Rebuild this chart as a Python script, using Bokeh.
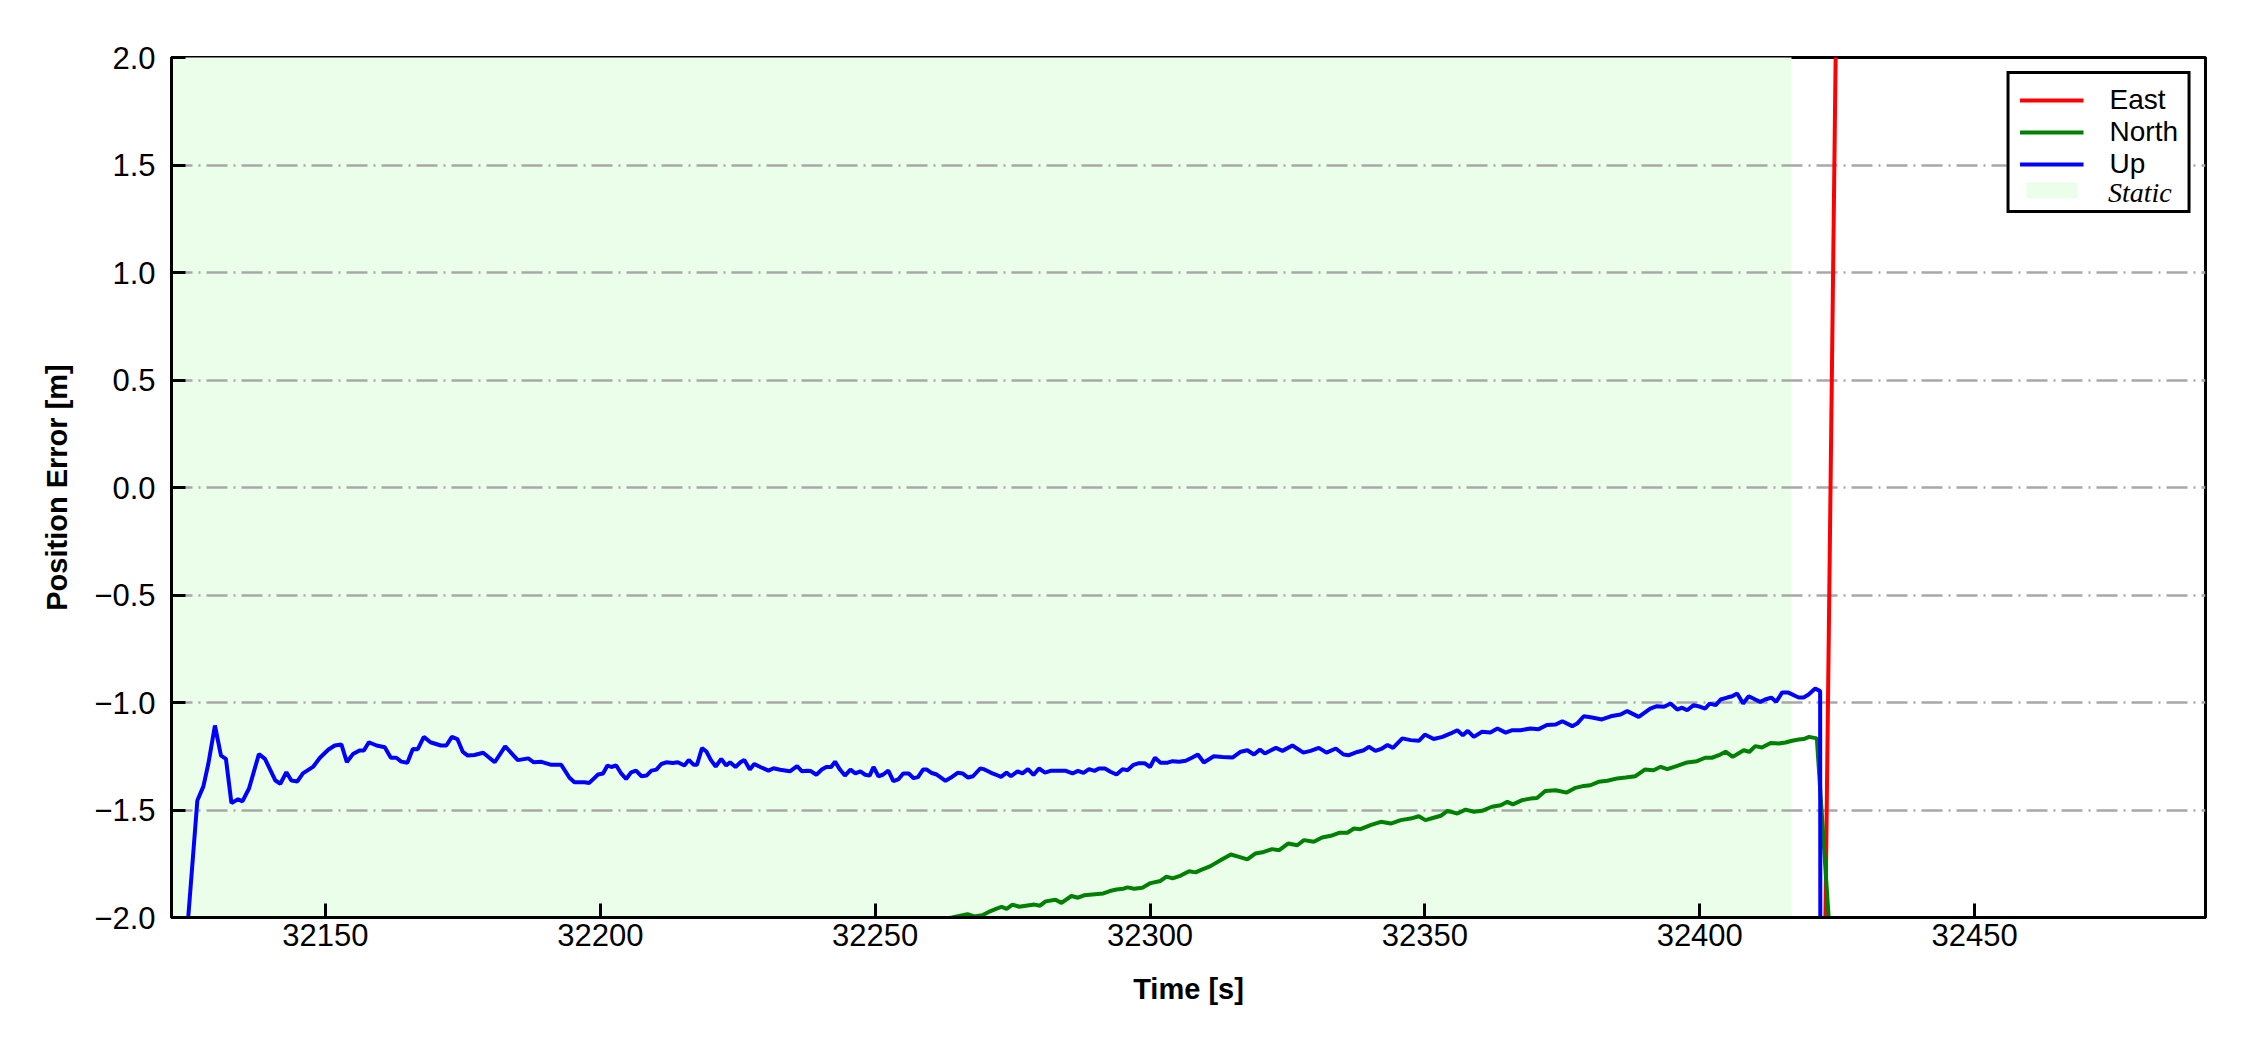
from bokeh.plotting import figure
from bokeh.models import (Range1d, FixedTicker, Legend, LegendItem)
from bokeh.embed import file_html
from bokeh.resources import INLINE

# ---------------- data ----------------
up_t = [32122.0, 32126.7, 32127.8, 32128.7, 32129.9, 32131.0, 32131.9, 32132.9, 32134.1, 32134.9,
        32136.1, 32137.9, 32139.0, 32140.9, 32141.8, 32142.9, 32143.8, 32144.9, 32145.9, 32147.8,
        32149.0, 32150.5, 32151.7, 32152.9, 32153.9, 32155.0, 32156.2, 32157.0, 32157.9, 32159.3,
        32160.8, 32161.9, 32162.9, 32163.8, 32164.9, 32165.9, 32166.8, 32167.9, 32169.1, 32171.0,
        32172.0, 32173.0, 32174.0, 32175.0, 32175.9, 32177.1, 32178.7, 32180.8, 32182.7, 32185.0,
        32186.9, 32187.9, 32189.3, 32191.1, 32192.9, 32194.4, 32195.3, 32197.1, 32198.0, 32199.6,
        32200.5, 32201.3, 32202.0, 32202.9, 32203.8, 32204.7, 32205.6, 32206.5, 32207.5, 32208.4,
        32209.3, 32210.2, 32211.1, 32212.0, 32213.2, 32214.1, 32215.3, 32216.1, 32217.0, 32217.6,
        32218.5, 32219.3, 32220.1, 32221.0, 32222.0, 32222.9, 32223.6, 32224.6, 32225.5, 32226.2,
        32227.2, 32228.0, 32229.1, 32230.6, 32231.5, 32232.7, 32234.5, 32235.8, 32236.7, 32237.6,
        32238.3, 32239.3, 32240.3, 32241.1, 32242.0, 32242.7, 32243.6, 32244.5, 32245.5, 32246.4,
        32247.3, 32248.2, 32249.0, 32249.7, 32250.6, 32251.4, 32252.4, 32253.3, 32254.2, 32255.1,
        32256.1, 32257.0, 32257.8, 32258.7, 32259.4, 32260.3, 32261.2, 32262.8, 32263.8, 32265.0,
        32265.9, 32266.9, 32267.8, 32269.1, 32269.8, 32271.0, 32271.9, 32272.9, 32273.9, 32274.7,
        32275.9, 32276.8, 32277.8, 32278.8, 32279.8, 32280.9, 32281.9, 32283.2, 32284.7, 32285.9,
        32286.9, 32287.9, 32288.9, 32289.9, 32290.7, 32291.8, 32292.8, 32293.9, 32295.0, 32295.9,
        32297.0, 32298.0, 32299.0, 32300.0, 32300.9, 32301.9, 32303.2, 32304.1, 32305.3, 32306.5,
        32307.7, 32308.7, 32309.8, 32311.6, 32313.2, 32315.0, 32316.5, 32317.7, 32318.9, 32320.0,
        32320.9, 32322.9, 32324.1, 32325.9, 32327.9, 32329.2, 32330.7, 32332.1, 32333.8, 32335.2,
        32336.2, 32337.7, 32338.9, 32339.8, 32341.0, 32342.2, 32343.2, 32344.2, 32345.9, 32347.4,
        32348.9, 32350.0, 32351.6, 32353.2, 32354.7, 32355.9, 32356.9, 32357.8, 32358.9, 32360.4,
        32361.9, 32363.2, 32364.7, 32365.9, 32367.4, 32369.2, 32370.7, 32372.2, 32373.8, 32375.0,
        32376.8, 32377.7, 32378.9, 32380.4, 32382.2, 32383.8, 32385.6, 32386.8, 32388.9, 32391.0,
        32392.2, 32393.5, 32394.7, 32395.9, 32396.8, 32397.7, 32398.9, 32400.1, 32401.0, 32401.8,
        32402.9, 32403.8, 32405.0, 32405.9, 32406.8, 32407.9, 32408.9, 32410.1, 32411.0, 32411.9,
        32413.0, 32413.9, 32415.0, 32416.0, 32417.1, 32418.0, 32418.9, 32419.8, 32421.0, 32421.9,
        32422.1, 32492.0]
up_v = [-3.0, -1.456, -1.39, -1.285, -1.107, -1.247, -1.262, -1.468, -1.45, -1.46,
        -1.40, -1.24, -1.262, -1.363, -1.378, -1.324, -1.363, -1.367, -1.33, -1.298,
        -1.257, -1.22, -1.20, -1.195, -1.277, -1.24, -1.223, -1.223, -1.185, -1.20,
        -1.208, -1.257, -1.257, -1.275, -1.28, -1.216, -1.217, -1.16, -1.185, -1.20,
        -1.20, -1.16, -1.17, -1.23, -1.247, -1.244, -1.234, -1.278, -1.204, -1.268,
        -1.26, -1.278, -1.276, -1.29, -1.29, -1.35, -1.371, -1.371, -1.374, -1.335,
        -1.33, -1.293, -1.30, -1.293, -1.33, -1.356, -1.325, -1.317, -1.343, -1.34,
        -1.317, -1.312, -1.286, -1.278, -1.281, -1.278, -1.293, -1.267, -1.29, -1.289,
        -1.212, -1.228, -1.267, -1.298, -1.262, -1.293, -1.278, -1.30, -1.278, -1.267,
        -1.312, -1.286, -1.30, -1.317, -1.306, -1.313, -1.32, -1.296, -1.32, -1.317,
        -1.319, -1.336, -1.312, -1.30, -1.30, -1.275, -1.312, -1.34, -1.312, -1.33,
        -1.32, -1.336, -1.34, -1.30, -1.343, -1.336, -1.317, -1.366, -1.358, -1.33,
        -1.33, -1.352, -1.347, -1.312, -1.312, -1.328, -1.335, -1.364, -1.349, -1.327,
        -1.33, -1.349, -1.343, -1.307, -1.31, -1.326, -1.335, -1.346, -1.326, -1.343,
        -1.32, -1.33, -1.31, -1.337, -1.307, -1.326, -1.318, -1.318, -1.318, -1.33,
        -1.318, -1.327, -1.31, -1.318, -1.307, -1.307, -1.322, -1.335, -1.31, -1.315,
        -1.29, -1.282, -1.282, -1.30, -1.257, -1.28, -1.28, -1.273, -1.276, -1.271,
        -1.256, -1.242, -1.279, -1.25, -1.253, -1.256, -1.229, -1.222, -1.242, -1.219,
        -1.237, -1.211, -1.225, -1.20, -1.233, -1.225, -1.211, -1.233, -1.214, -1.242,
        -1.245, -1.23, -1.222, -1.206, -1.225, -1.214, -1.198, -1.211, -1.167, -1.175,
        -1.178, -1.149, -1.17, -1.16, -1.144, -1.129, -1.152, -1.132, -1.16, -1.136,
        -1.139, -1.121, -1.14, -1.129, -1.129, -1.121, -1.124, -1.105, -1.102, -1.087,
        -1.11, -1.098, -1.064, -1.07, -1.079, -1.064, -1.056, -1.04, -1.067, -1.028,
        -1.017, -1.02, -1.005, -1.033, -1.024, -1.036, -1.012, -1.02, -1.028, -1.005,
        -1.012, -0.986, -0.977, -0.971, -0.958, -1.005, -0.971, -0.986, -0.997, -0.986,
        -0.977, -0.997, -0.953, -0.953, -0.966, -0.977, -0.977, -0.963, -0.935, -0.947,
        -8.0, -8.0]

north_t = [32122.0, 32264.0, 32266.8, 32268.0, 32269.5, 32271.0, 32272.0, 32273.0, 32273.9, 32275.0,
           32276.2, 32277.7, 32279.0, 32280.0, 32281.0, 32282.8, 32283.9, 32285.7, 32286.9, 32288.0,
           32289.5, 32291.5, 32292.7, 32293.9, 32295.2, 32295.9, 32297.1, 32298.6, 32300.1, 32301.9,
           32303.0, 32304.1, 32305.6, 32307.1, 32308.3, 32309.2, 32311.0, 32312.9, 32314.7, 32316.2,
           32317.7, 32319.2, 32320.7, 32322.2, 32323.5, 32325.1, 32326.8, 32328.0, 32329.8, 32331.3,
           32332.9, 32334.4, 32335.9, 32337.1, 32338.3, 32340.1, 32342.0, 32343.8, 32345.6, 32347.4,
           32348.9, 32350.1, 32351.6, 32352.9, 32354.1, 32355.9, 32357.4, 32358.9, 32360.4, 32362.2,
           32363.8, 32365.0, 32366.0, 32367.7, 32369.2, 32370.4, 32371.9, 32373.8, 32375.8, 32377.4,
           32378.9, 32380.1, 32381.6, 32383.2, 32385.0, 32386.5, 32388.3, 32390.0, 32391.6, 32392.9,
           32394.1, 32395.9, 32397.7, 32399.5, 32401.0, 32402.2, 32403.5, 32404.7, 32406.0, 32408.0,
           32409.0, 32410.1, 32411.3, 32412.9, 32414.4, 32415.6, 32416.8, 32418.0, 32418.9, 32419.9,
           32421.3, 32425.0, 32492.0]
north_v = [-2.75, -2.0, -1.985, -1.995, -1.99, -1.97, -1.96, -1.95, -1.96, -1.94,
           -1.95, -1.944, -1.94, -1.945, -1.925, -1.917, -1.932, -1.90, -1.908, -1.897,
           -1.893, -1.888, -1.877, -1.87, -1.866, -1.86, -1.866, -1.862, -1.84, -1.83,
           -1.81, -1.818, -1.805, -1.785, -1.79, -1.78, -1.761, -1.733, -1.707, -1.718,
           -1.73, -1.702, -1.695, -1.682, -1.687, -1.656, -1.664, -1.64, -1.648, -1.628,
           -1.62, -1.606, -1.606, -1.586, -1.589, -1.57, -1.555, -1.563, -1.547, -1.54,
           -1.529, -1.547, -1.536, -1.527, -1.504, -1.516, -1.498, -1.508, -1.504, -1.485,
           -1.478, -1.462, -1.474, -1.454, -1.447, -1.444, -1.412, -1.408, -1.419, -1.397,
           -1.388, -1.385, -1.369, -1.364, -1.353, -1.349, -1.343, -1.312, -1.315, -1.299,
           -1.31, -1.295, -1.279, -1.273, -1.257, -1.257, -1.245, -1.229, -1.253, -1.222,
           -1.23, -1.203, -1.209, -1.188, -1.191, -1.186, -1.178, -1.172, -1.17, -1.16,
           -1.167, -2.6, -6.0]

east_t = [32122.0, 32422.0, 32425.0, 32492.0]
east_v = [-4.5, -3.85, 2.6, 4.0]

static_start = 32122.0
static_end = 32416.7

x_ticks = [32150, 32200, 32250, 32300, 32350, 32400, 32450]
y_ticks = [-2.0, -1.5, -1.0, -0.5, 0.0, 0.5, 1.0, 1.5, 2.0]
y_tick_labels = ["\u22122.0", "\u22121.5", "\u22121.0", "\u22120.5", "0.0", "0.5", "1.0", "1.5", "2.0"]
x_limits = (32122.0, 32492.0)
y_limits = (-2.0, 2.0)

# ---------------- figure ----------------
FONT = "Liberation Sans"
p = figure(width=2234, height=1034, output_backend="svg", toolbar_location=None,
           x_range=Range1d(*x_limits), y_range=Range1d(*y_limits),
           min_border_left=171, min_border_right=29, min_border_top=57, min_border_bottom=117)
p.background_fill_color = "white"
p.border_fill_color = "white"
p.outline_line_color = "black"
p.outline_line_width = 3
p.outline_line_alpha = 1.0

# static span (below grid)
r_static = p.quad(left=[static_start], right=[static_end], bottom=[-100], top=[100],
                  fill_color="#eafeea", line_color=None, level="image")
# invisible twin, used only by the italic legend overlay (so its swatch draws nothing)
r_static_ghost = p.quad(left=[static_start], right=[static_end], bottom=[-100], top=[100],
                        fill_alpha=0.0, line_color=None, level="image")

r_east = p.line(east_t, east_v, line_color="#ff0000", line_width=4)
r_north = p.line(north_t, north_v, line_color="#008000", line_width=4)
r_up = p.line(up_t, up_v, line_color="#0000ff", line_width=4)

# axes
for ax in (p.xaxis[0], p.yaxis[0]):
    ax.axis_line_width = 3
    ax.axis_line_color = "black"
    ax.major_tick_in = 14
    ax.major_tick_out = 0
    ax.major_tick_line_width = 3
    ax.major_tick_line_color = "black"
    ax.minor_tick_line_color = None
    ax.major_label_text_font = FONT
    ax.major_label_text_font_size = "31px"
    ax.major_label_text_color = "black"
    ax.axis_label_text_font = FONT
    ax.axis_label_text_font_size = "29px"
    ax.axis_label_text_font_style = "bold"
    ax.axis_label_text_color = "black"

p.xaxis.ticker = FixedTicker(ticks=x_ticks)
p.xaxis.axis_label = "Time [s]"
p.xaxis.major_label_standoff = 6
p.xaxis.axis_label_standoff = 24

p.yaxis.ticker = FixedTicker(ticks=y_ticks)
p.yaxis.major_label_overrides = {float(t): lab for t, lab in zip(y_ticks, y_tick_labels)}
p.yaxis.axis_label = "Position Error [m]"
p.yaxis.major_label_standoff = 16
p.yaxis.axis_label_standoff = 18

p.xgrid.grid_line_color = None
p.ygrid.grid_line_color = "#a8a8a8"
p.ygrid.grid_line_width = 2.5
p.ygrid.grid_line_dash = "21 6 2 6"

# main legend (box); the fourth row's text is supplied by an overlaid italic legend
legend_style = dict(padding=10, spacing=0, glyph_width=64, glyph_height=20, label_height=20,
                    label_standoff=26, label_text_font_size="28px", label_text_color="black")
legend = Legend(items=[LegendItem(label="East", renderers=[r_east]),
                       LegendItem(label="North", renderers=[r_north]),
                       LegendItem(label="Up", renderers=[r_up]),
                       LegendItem(label=" ", renderers=[r_static])],
                location="top_right", margin=14, label_text_font=FONT,
                border_line_color="black", border_line_width=3, border_line_alpha=1.0,
                background_fill_color="white", background_fill_alpha=1.0, **legend_style)
p.add_layout(legend)

legend_static = Legend(items=[LegendItem(label="Static", renderers=[r_static_ghost])],
                       location=(1847, 708), margin=0,
                       label_text_font="Liberation Serif", label_text_font_style="italic",
                       border_line_color=None, background_fill_alpha=0.0, **legend_style)
p.add_layout(legend_static)

open("out.html", "w").write(file_html(p, INLINE))
